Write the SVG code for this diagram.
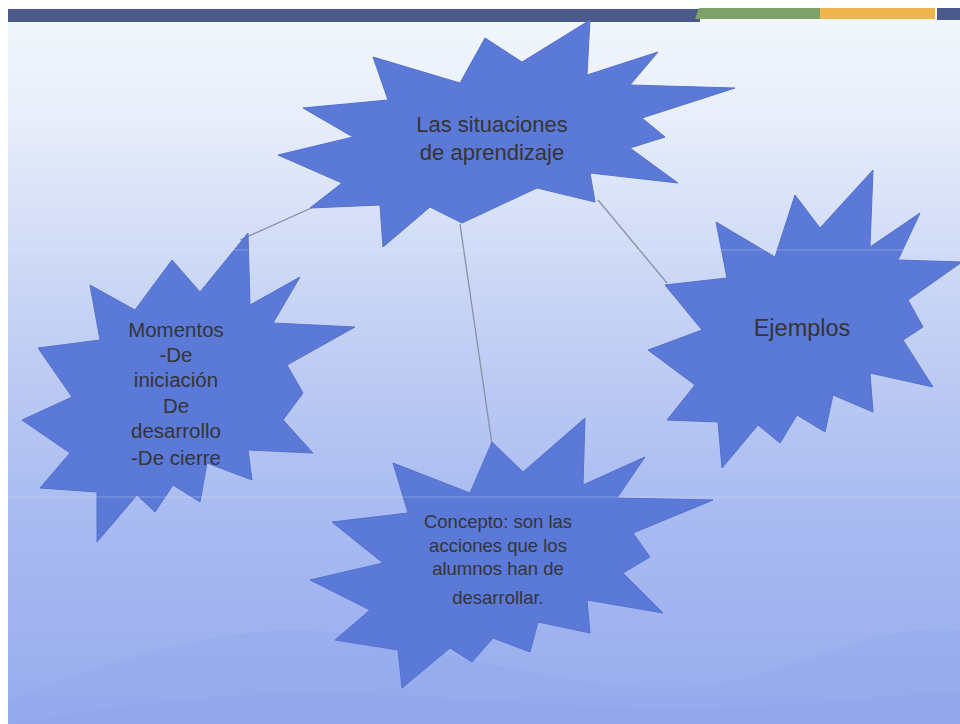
<svg xmlns="http://www.w3.org/2000/svg" width="960" height="724" viewBox="0 0 960 724">
  <defs>
    <linearGradient id="bg" x1="0" y1="0" x2="0" y2="1">
      <stop offset="0" stop-color="#f3f7fd"/>
      <stop offset="0.15" stop-color="#e8eefa"/>
      <stop offset="0.4" stop-color="#c9d5f5"/>
      <stop offset="0.7" stop-color="#a9bbf1"/>
      <stop offset="1" stop-color="#97acee"/>
    </linearGradient>
  </defs>
  <style>
    .star { fill: #5b79d7; stroke: #5571cf; stroke-width: 1; stroke-linejoin: miter; }
    .lbl { font-family: "Liberation Sans", Arial, sans-serif; fill: #353535; text-anchor: middle; }
    .conn { stroke: #8790a8; stroke-width: 1.3; fill: none; }
    .scan { stroke: #e6ecfb; stroke-width: 1.2; opacity: 0.3; }
  </style>

  <!-- page & slide background -->
  <rect x="0" y="0" width="960" height="724" fill="#ffffff"/>
  <rect x="8" y="8" width="952" height="716" fill="url(#bg)"/>
  <!-- distant hills (soft) -->
  <path d="M8,700 C90,670 170,640 260,632 C340,626 390,640 450,655 C530,672 600,690 680,688 C760,684 820,650 880,636 C920,628 945,628 960,630 L960,724 L8,724 Z" fill="#90a6ea" opacity="0.35"/>
  <path d="M8,724 C120,705 240,690 360,694 C480,698 600,712 720,708 C820,704 900,696 960,690 L960,724 Z" fill="#8ea4ea" opacity="0.3"/>

  <!-- top bar -->
  <rect x="8" y="9" width="692" height="13" fill="#4b5a8b"/>
  <polygon points="699,8 820,8 820,19 695,19" fill="#7da168"/>
  <rect x="820" y="8" width="115" height="11" fill="#f0b44d"/>
  <rect x="937" y="8" width="23" height="12" fill="#4b5a8b"/>

  <!-- connectors -->
  <g id="connectors">
    <line class="conn" x1="240" y1="240" x2="318" y2="205"/>
    <line class="conn" x1="460" y1="224" x2="492" y2="444"/>
    <line class="conn" x1="598" y1="200" x2="667" y2="283"/>
  </g>

  <!-- nodes -->
  <g id="node-situaciones">
    <polygon class="star" points="278,155 353,137 303,108 388,100 373,57 460,83 485,38 522,62 590,20 587,75 658,52 630,85 735,88 642,118 665,137 630,148 678,183 590,173 595,202 537,188 462,223 430,207 383,247 380,205 310,208 342,183"/>
    <text class="lbl" x="492" y="132" font-size="22">Las situaciones</text>
    <text class="lbl" x="492" y="160" font-size="22">de aprendizaje</text>
  </g>

  <g id="node-momentos">
    <polygon class="star" points="22,420 72,397 38,348 100,340 90,285 135,310 172,260 200,292 248,233 250,305 300,277 273,323 355,327 287,365 303,393 283,420 313,453 248,450 252,480 207,463 200,502 173,485 155,512 137,495 97,542 97,492 40,488 70,453"/>
    <text class="lbl" x="176" y="337" font-size="20.5">Momentos</text>
    <text class="lbl" x="176" y="362" font-size="20.5">-De</text>
    <text class="lbl" x="176" y="387" font-size="20.5">iniciación</text>
    <text class="lbl" x="176" y="413" font-size="20.5">De</text>
    <text class="lbl" x="176" y="438" font-size="20.5">desarrollo</text>
    <text class="lbl" x="176" y="465" font-size="20.5">-De cierre</text>
  </g>

  <g id="node-ejemplos">
    <polygon class="star" points="716,222 775,257 795,195 820,228 873,170 870,247 920,213 898,260 962,262 908,300 923,327 903,340 933,387 870,373 873,412 833,395 825,432 797,415 780,443 758,425 722,468 718,422 667,420 695,385 648,350 702,330 665,285 727,278"/>
    <text class="lbl" x="802" y="336" font-size="23.5">Ejemplos</text>
  </g>

  <g id="node-concepto">
    <polygon class="star" points="585,418 583,485 645,457 617,498 713,500 633,533 650,557 623,573 663,613 587,600 590,633 538,622 530,652 493,638 472,662 450,648 402,688 398,650 335,640 370,610 310,580 383,563 332,522 408,513 393,463 470,493 492,442 523,472"/>
    <text class="lbl" x="498" y="528" font-size="18.5">Concepto: son las</text>
    <text class="lbl" x="498" y="552" font-size="18.5">acciones que los</text>
    <text class="lbl" x="498" y="575" font-size="18.5">alumnos han de</text>
    <text class="lbl" x="498" y="604" font-size="18.5">desarrollar.</text>
  </g>

  <!-- faint scan lines -->
  <line class="scan" x1="8" y1="250" x2="960" y2="250"/>
  <line class="scan" x1="8" y1="497" x2="960" y2="497"/>
</svg>
